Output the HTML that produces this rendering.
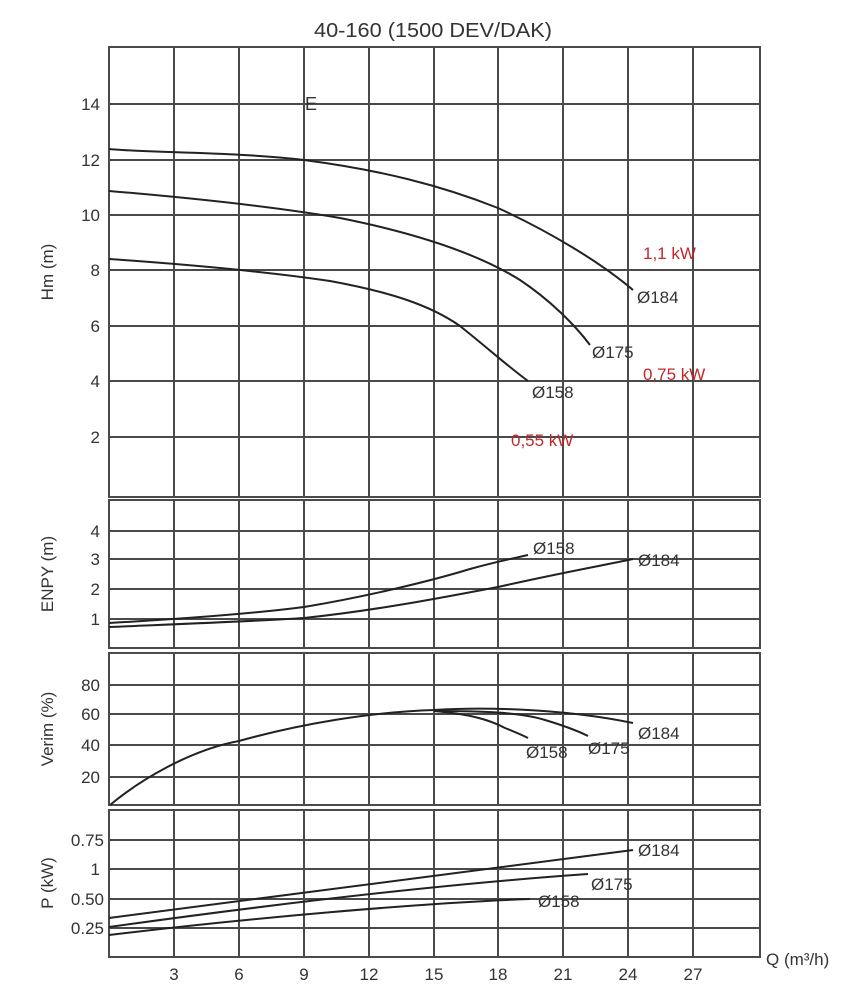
<!DOCTYPE html>
<html><head><meta charset="utf-8"><style>
body{margin:0;background:#fff;}
svg{display:block;}
text{font-family:"Liberation Sans Narrow","Liberation Sans",sans-serif;fill:#333;}
</style></head><body>
<svg width="866" height="1000" viewBox="0 0 866 1000" xmlns="http://www.w3.org/2000/svg">
<text x="433" y="37" font-size="20" text-anchor="middle" textLength="238" lengthAdjust="spacingAndGlyphs">40-160 (1500 DEV/DAK)</text>
<g stroke="#4a4a4a" stroke-width="2" fill="none">
<!-- panels borders -->
<rect x="109" y="47" width="651" height="450"/>
<rect x="109" y="500" width="651" height="148"/>
<rect x="109" y="653" width="651" height="152"/>
<rect x="109" y="810" width="651" height="147"/>
<!-- verticals -->
<path d="M174 47V497M239 47V497M304 47V497M369 47V497M434 47V497M498 47V497M563 47V497M628 47V497M693 47V497
M174 500V648M239 500V648M304 500V648M369 500V648M434 500V648M498 500V648M563 500V648M628 500V648M693 500V648
M174 653V805M239 653V805M304 653V805M369 653V805M434 653V805M498 653V805M563 653V805M628 653V805M693 653V805
M174 810V957M239 810V957M304 810V957M369 810V957M434 810V957M498 810V957M563 810V957M628 810V957M693 810V957"/>
<!-- horizontals -->
<path d="M109 104H760M109 160H760M109 215H760M109 270H760M109 326H760M109 381H760M109 437H760
M109 531H760M109 559H760M109 589H760M109 619H760
M109 685H760M109 714H760M109 745H760M109 777H760
M109 840H760M109 869H760M109 899H760M109 928H760"/>
</g>
<g stroke="#222" stroke-width="2" fill="none">
<path d="M109 149 C150 153,239 152,304 160 C380 170,440 185,498 208 C550 232,600 262,633 290"/>
<path d="M109 191 C180 197,270 206,340 218 C420 234,480 255,520 280 C550 300,575 325,590 345"/>
<path d="M109 259 C180 264,270 272,330 281 C390 292,430 305,460 326 C490 350,510 368,528 381"/>
<path d="M109 623 C180 619,250 614,304 607 C370 596,434 580,470 569 C495 562,515 558,528 555"/>
<path d="M109 627 C180 624,260 621,304 618 C380 610,450 596,498 587 C560 573,600 566,633 559"/>
<path d="M110 805 C140 780,190 750,239 741 C300 724,370 712,434 710 C480 707,560 708,633 723"/>
<path d="M434 711 C480 711,520 712,545 720 C565 726,578 731,588 736"/>
<path d="M434 711 C470 714,490 720,505 728 C515 732,522 735,528 738"/>
<path d="M109 918 L633 850"/>
<path d="M109 927 C260 906,430 885,588 874"/>
<path d="M109 935 C250 918,420 903,530 899"/>
</g>
<g font-size="17" text-anchor="end">
<text x="100" y="110">14</text><text x="100" y="166">12</text><text x="100" y="221">10</text><text x="100" y="276">8</text><text x="100" y="332">6</text><text x="100" y="387">4</text><text x="100" y="443">2</text>
<text x="100" y="537">4</text><text x="100" y="565">3</text><text x="100" y="595">2</text><text x="100" y="625">1</text>
<text x="100" y="691">80</text><text x="100" y="720">60</text><text x="100" y="751">40</text><text x="100" y="783">20</text>
<text x="104" y="846">0.75</text><text x="100" y="875">1</text><text x="104" y="905">0.50</text><text x="104" y="934">0.25</text>
</g>
<g font-size="17" text-anchor="middle">
<text x="174" y="980">3</text><text x="239" y="980">6</text><text x="304" y="980">9</text><text x="369" y="980">12</text><text x="434" y="980">15</text><text x="498" y="980">18</text><text x="563" y="980">21</text><text x="628" y="980">24</text><text x="693" y="980">27</text>
</g>
<text x="766" y="965" font-size="17">Q (m³/h)</text>
<g font-size="17" text-anchor="middle">
<text transform="translate(53 272) rotate(-90)">Hm (m)</text>
<text transform="translate(53 574) rotate(-90)">ENPY (m)</text>
<text transform="translate(53 729) rotate(-90)">Verim (%)</text>
<text transform="translate(53 883) rotate(-90)">P (kW)</text>
</g>
<text x="305" y="110" font-size="18">E</text>
<g font-size="17">
<text x="637" y="303">Ø184</text><text x="592" y="358">Ø175</text><text x="532" y="398">Ø158</text>
<text x="533" y="554">Ø158</text><text x="638" y="566">Ø184</text>
<text x="638" y="739">Ø184</text><text x="588" y="754">Ø175</text><text x="526" y="758">Ø158</text>
<text x="638" y="856">Ø184</text><text x="591" y="890">Ø175</text><text x="538" y="907">Ø158</text>
</g>
<g font-size="17" style="fill:#c0282d">
<text x="643" y="259" style="fill:#c0282d">1,1 kW</text>
<text x="643" y="380" style="fill:#c0282d">0,75 kW</text>
<text x="511" y="446" style="fill:#c0282d">0,55 kW</text>
</g>
</svg>
</body></html>
